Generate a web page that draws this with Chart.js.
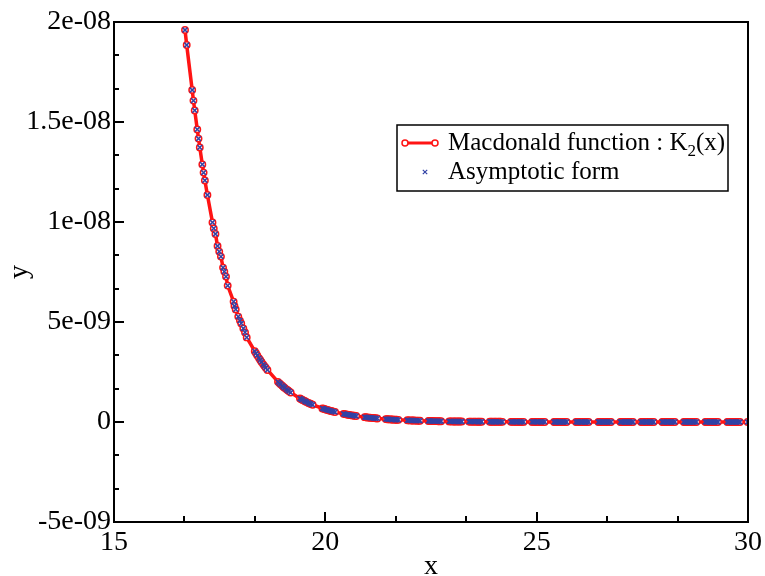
<!DOCTYPE html>
<html>
<head>
<meta charset="utf-8">
<script src="https://cdn.jsdelivr.net/npm/chart.js@4/dist/chart.umd.min.js"></script>
<style>
  html, body { margin: 0; padding: 0; background: #fff; }
  canvas { display: block; }
</style>
</head>
<body>
<canvas id="chart" width="765" height="576"></canvas>
<script>
// Sample abscissae
const xValues = [
  16.68, 16.72,
  16.85, 16.88, 16.91, 16.97, 17.00, 17.03, 17.09, 17.12, 17.15, 17.21,
  17.33, 17.36, 17.40, 17.45, 17.49, 17.53, 17.58, 17.61, 17.65, 17.69,
  17.83, 17.85, 17.88, 17.94, 17.98, 18.01, 18.06, 18.10, 18.14,
  18.33, 18.36, 18.39, 18.43, 18.46, 18.49, 18.53, 18.56, 18.59, 18.63,
  18.88, 18.91, 18.94, 18.98, 19.01, 19.04, 19.08, 19.11, 19.14, 19.18,
  19.40, 19.43, 19.46, 19.50, 19.53, 19.56, 19.60, 19.63, 19.66, 19.70,
  19.93, 19.96, 19.99, 20.03, 20.06, 20.09, 20.13, 20.16, 20.19, 20.23,
  20.43, 20.46, 20.49, 20.53, 20.56, 20.59, 20.63, 20.66, 20.69, 20.73,
  20.93, 20.96, 20.99, 21.03, 21.06, 21.09, 21.13, 21.16, 21.19, 21.23,
  21.43, 21.46, 21.49, 21.53, 21.56, 21.59, 21.63, 21.66, 21.69, 21.73,
  21.94, 21.97, 22.00, 22.04, 22.07, 22.10, 22.14, 22.17, 22.20, 22.24,
  22.44, 22.47, 22.50, 22.54, 22.57, 22.60, 22.64, 22.67, 22.70, 22.74,
  22.93, 22.96, 22.99, 23.03, 23.06, 23.09, 23.13, 23.16, 23.19, 23.23,
  23.40, 23.43, 23.46, 23.50, 23.53, 23.56, 23.60, 23.63, 23.66, 23.70,
  23.89, 23.92, 23.95, 23.99, 24.02, 24.05, 24.09, 24.12, 24.15, 24.19,
  24.39, 24.42, 24.45, 24.49, 24.52, 24.55, 24.59, 24.62, 24.65, 24.69,
  24.89, 24.92, 24.95, 24.99, 25.02, 25.05, 25.09, 25.12, 25.15, 25.19,
  25.41, 25.44, 25.47, 25.51, 25.54, 25.57, 25.61, 25.64, 25.67, 25.71,
  25.93, 25.96, 25.99, 26.03, 26.06, 26.09, 26.13, 26.16, 26.19, 26.23,
  26.46, 26.49, 26.52, 26.56, 26.59, 26.62, 26.66, 26.69, 26.72, 26.76,
  26.98, 27.01, 27.04, 27.08, 27.11, 27.14, 27.18, 27.21, 27.24, 27.28,
  27.47, 27.50, 27.53, 27.57, 27.60, 27.63, 27.67, 27.70, 27.73, 27.77,
  27.97, 28.00, 28.03, 28.07, 28.10, 28.13, 28.17, 28.20, 28.23, 28.27,
  28.48, 28.51, 28.54, 28.58, 28.61, 28.64, 28.68, 28.71, 28.74, 28.78,
  28.99, 29.02, 29.05, 29.09, 29.12, 29.15, 29.19, 29.22, 29.25, 29.29,
  29.51, 29.54, 29.57, 29.61, 29.64, 29.67, 29.71, 29.74, 29.77, 29.81,
  29.99
];

// K2(x) in units of 1e-9
const k2Nano = [
  19.6, 18.85,
  16.6, 16.07, 15.58, 14.63, 14.17, 13.73, 12.88, 12.47, 12.08, 11.35,
  9.98, 9.68, 9.40, 8.80, 8.52, 8.27, 7.72, 7.52, 7.27, 6.82,
  6.02, 5.80, 5.63, 5.27, 5.07, 4.93, 4.68, 4.48, 4.23,
  3.542, 3.434, 3.330, 3.195, 3.098, 3.004, 2.882, 2.795, 2.710, 2.601,
  2.007, 1.946, 1.887, 1.811, 1.756, 1.702, 1.633, 1.584, 1.536, 1.474,
  1.1745, 1.1388, 1.1041, 1.0595, 1.0273, 0.9961, 0.9558, 0.9268, 0.8986, 0.8623,
  0.6802, 0.6595, 0.6394, 0.6136, 0.5950, 0.5769, 0.5535, 0.5367, 0.5204, 0.4994,
  0.4066, 0.3942, 0.3822, 0.3668, 0.3557, 0.3448, 0.3309, 0.3208, 0.3111, 0.2985,
  0.2432, 0.2358, 0.2286, 0.2194, 0.2127, 0.2063, 0.1979, 0.1919, 0.1861, 0.1786,
  0.1454, 0.1410, 0.1367, 0.1312, 0.1272, 0.1233, 0.1183, 0.1147, 0.1112, 0.1068,
  0.0862, 0.0835, 0.0810, 0.0777, 0.0754, 0.0731, 0.0701, 0.0680, 0.0659, 0.0633,
  0.0516, 0.0500, 0.0485, 0.0465, 0.0451, 0.0437, 0.0420, 0.0407, 0.0394, 0.0378,
  0.0312, 0.0303, 0.0293, 0.0282, 0.0273, 0.0265, 0.0254, 0.0246, 0.0239, 0.0229,
  0.0193, 0.0187, 0.0181, 0.0174, 0.0169, 0.0163, 0.0157, 0.0152, 0.0147, 0.0141,
  0.0117, 0.0113, 0.0110, 0.0105, 0.0102, 0.0099, 0.0095, 0.0092, 0.0089, 0.0086,
  0.0070, 0.0068, 0.0066, 0.0063, 0.0061, 0.0059, 0.0057, 0.0055, 0.0053, 0.0051,
  0.0042, 0.0041, 0.0039, 0.0038, 0.0037, 0.0036, 0.0034, 0.0033, 0.0032, 0.0031,
  0.00246, 0.00239, 0.00231, 0.00222, 0.00215, 0.00209, 0.00200, 0.00194, 0.00188, 0.00181,
  0.00145, 0.00141, 0.00136, 0.00131, 0.00127, 0.00123, 0.00118, 0.00114, 0.00111, 0.00106,
  0.00084, 0.00082, 0.00079, 0.00076, 0.00074, 0.00072, 0.00069, 0.00067, 0.00065, 0.00062,
  0.00050, 0.00048, 0.00047, 0.00045, 0.00043, 0.00042, 0.00040, 0.00039, 0.00038, 0.00036,
  0.00030, 0.00029, 0.00028, 0.00027, 0.00026, 0.00025, 0.00024, 0.00024, 0.00023, 0.00022,
  0.00018, 0.00017, 0.00017, 0.00016, 0.00016, 0.00015, 0.00015, 0.00014, 0.00014, 0.00013,
  0.000107, 0.000104, 0.000101, 0.000097, 0.000094, 0.000091, 0.000087, 0.000084, 0.000082, 0.000079,
  0.000064, 0.000062, 0.000060, 0.000057, 0.000056, 0.000054, 0.000052, 0.000050, 0.000049, 0.000047,
  0.000037, 0.000036, 0.000035, 0.000034, 0.000033, 0.000032, 0.000030, 0.000029, 0.000029, 0.000027,
  0.000023
];

// Asymptotic expansion, in units of 1e-9 (coincides with K2 at this scale)
const asymptoticNano = k2Nano;

const seriesLabels = ['Macdonald function : K\u2082(x)', 'Asymptotic form'];

const xTickValues = [15, 20, 25, 30];
const xTickLabels = ['15', '20', '25', '30'];
const yTickValues = [-5, 0, 5, 10, 15, 20];
const yTickLabels = ['-5e-09', '0', '5e-09', '1e-08', '1.5e-08', '2e-08'];

const SERIF = "'Liberation Serif', 'Times New Roman', Times, serif";
const RED = 'rgb(255,20,20)';
const BLUE = 'rgb(50,66,165)';

const toPoints = (xs, ys) => xs.map((x, i) => ({ x: x, y: ys[i] }));

// Closed frame plus inward major/minor ticks on the left and bottom axes
const axisFrame = {
  id: 'axisFrame',
  afterDatasetsDraw(chart) {
    const { ctx, chartArea: ca, scales } = chart;
    ctx.save();
    ctx.strokeStyle = '#000';
    ctx.lineWidth = 2;
    ctx.strokeRect(ca.left, ca.top, ca.right - ca.left, ca.bottom - ca.top);

    const minorOf = (majors) => {
      const out = [];
      for (let i = 0; i < majors.length - 1; i++) {
        const d = (majors[i + 1] - majors[i]) / 3;
        out.push(majors[i] + d, majors[i] + 2 * d);
      }
      return out;
    };
    ctx.lineWidth = 2;
    ctx.beginPath();
    xTickValues.forEach(v => {
      const px = Math.round(scales.x.getPixelForValue(v));
      ctx.moveTo(px, ca.bottom); ctx.lineTo(px, ca.bottom - 10);
    });
    minorOf(xTickValues).forEach(v => {
      const px = Math.round(scales.x.getPixelForValue(v));
      ctx.moveTo(px, ca.bottom); ctx.lineTo(px, ca.bottom - 6);
    });
    yTickValues.forEach(v => {
      const py = Math.round(scales.y.getPixelForValue(v));
      ctx.moveTo(ca.left, py); ctx.lineTo(ca.left + 10, py);
    });
    minorOf(yTickValues).forEach(v => {
      const py = Math.round(scales.y.getPixelForValue(v));
      ctx.moveTo(ca.left, py); ctx.lineTo(ca.left + 5, py);
    });
    ctx.stroke();
    ctx.restore();
  }
};

// Boxed legend with a subscript-aware label renderer
const SUBSCRIPTS = '\u2080\u2081\u2082\u2083\u2084\u2085\u2086\u2087\u2088\u2089';
function drawRichLabel(ctx, text, x, y, size) {
  let cx = x;
  for (const ch of text) {
    const si = SUBSCRIPTS.indexOf(ch);
    if (si >= 0) {
      ctx.font = `${Math.round(size * 0.66)}px ${SERIF}`;
      ctx.fillText(String(si), cx, y + size * 0.25);
      cx += ctx.measureText(String(si)).width;
    } else {
      ctx.font = `${size}px ${SERIF}`;
      ctx.fillText(ch, cx, y);
      cx += ctx.measureText(ch).width;
    }
  }
}

const boxLegend = {
  id: 'boxLegend',
  afterDraw(chart) {
    const { ctx, chartArea: ca } = chart;
    const x0 = ca.left + 283, y0 = ca.top + 103, w = 331, h = 66;
    ctx.save();
    ctx.fillStyle = '#fff';
    ctx.fillRect(x0, y0, w, h);
    ctx.strokeStyle = '#000';
    ctx.lineWidth = 1.5;
    ctx.strokeRect(x0, y0, w, h);

    // row 1: line with circle markers
    const r1 = y0 + 18;
    ctx.strokeStyle = RED;
    ctx.lineWidth = 3;
    ctx.beginPath();
    ctx.moveTo(x0 + 8, r1); ctx.lineTo(x0 + 38, r1);
    ctx.stroke();
    ctx.lineWidth = 1.5;
    [x0 + 8, x0 + 38].forEach(cx => {
      ctx.beginPath();
      ctx.arc(cx, r1, 3, 0, Math.PI * 2);
      ctx.fillStyle = '#fff';
      ctx.fill();
      ctx.stroke();
    });

    // row 2: cross marker
    const r2 = y0 + 47;
    const mx = x0 + 28;
    ctx.strokeStyle = BLUE;
    ctx.lineWidth = 1.2;
    ctx.beginPath();
    ctx.moveTo(mx - 2.2, r2 - 2.2); ctx.lineTo(mx + 2.2, r2 + 2.2);
    ctx.moveTo(mx - 2.2, r2 + 2.2); ctx.lineTo(mx + 2.2, r2 - 2.2);
    ctx.stroke();

    ctx.fillStyle = '#000';
    ctx.textBaseline = 'alphabetic';
    ctx.textAlign = 'left';
    const labels = chart.data.datasets.map(d => d.label);
    drawRichLabel(ctx, labels[1], x0 + 51, y0 + 25, 25);
    drawRichLabel(ctx, labels[0], x0 + 51, y0 + 54, 25);
    ctx.restore();
  }
};

new Chart(document.getElementById('chart'), {
  type: 'scatter',
  data: {
    datasets: [
      {
        label: seriesLabels[1],
        data: toPoints(xValues, asymptoticNano),
        showLine: false,
        pointStyle: 'crossRot',
        pointRadius: 3.4,
        pointBorderWidth: 1.5,
        borderColor: BLUE,
        backgroundColor: BLUE,
        order: 1
      },
      {
        label: seriesLabels[0],
        data: toPoints(xValues, k2Nano),
        showLine: true,
        tension: 0,
        borderColor: RED,
        borderWidth: 3.5,
        pointStyle: 'circle',
        pointRadius: 3.2,
        pointBorderWidth: 1.5,
        pointBorderColor: RED,
        pointBackgroundColor: '#fff',
        order: 2
      }
    ]
  },
  options: {
    responsive: false,
    animation: false,
    devicePixelRatio: 1,
    layout: { padding: { top: 22, right: 17, bottom: 0, left: 0 } },
    plugins: {
      legend: { display: false },
      tooltip: { enabled: false }
    },
    scales: {
      x: {
        type: 'linear',
        position: 'bottom',
        min: 15, max: 30,
        grid: { display: false, drawTicks: false },
        border: { display: false },
        ticks: {
          stepSize: 5,
          padding: 7,
          color: '#000',
          font: { family: SERIF, size: 28, lineHeight: 1 },
          maxRotation: 0,
          callback: v => { const i = xTickValues.indexOf(v); return i >= 0 ? xTickLabels[i] : ''; }
        },
        title: {
          display: true, text: 'x', color: '#000',
          padding: { top: 0, bottom: -5 },
          font: { family: SERIF, size: 28, lineHeight: 1 }
        },
        afterFit(scale) {
          scale.height = 54;
          scale.paddingLeft = 0;
          scale.paddingRight = 0;
        }
      },
      y: {
        type: 'linear',
        position: 'left',
        min: -5, max: 20,
        grid: { display: false, drawTicks: false },
        border: { display: false },
        ticks: {
          stepSize: 5,
          padding: 3,
          color: '#000',
          font: { family: SERIF, size: 28, lineHeight: 1 },
          callback: v => { const i = yTickValues.indexOf(v); return i >= 0 ? yTickLabels[i] : ''; }
        },
        title: {
          display: true, text: 'y', color: '#000',
          padding: { top: 6, bottom: 0 },
          font: { family: SERIF, size: 28, lineHeight: 1 }
        },
        afterFit(scale) {
          scale.width = 114;
          scale.paddingTop = 0;
          scale.paddingBottom = 0;
        }
      }
    }
  },
  plugins: [axisFrame, boxLegend]
});
</script>
</body>
</html>
